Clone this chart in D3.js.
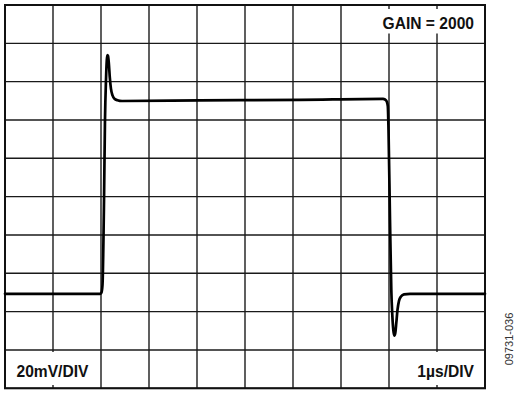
<!DOCTYPE html>
<html>
<head>
<meta charset="utf-8">
<script src="https://cdn.jsdelivr.net/npm/d3@7"></script>
<style>
  html, body { margin: 0; padding: 0; background: #fff; }
  svg { display: block; }
</style>
</head>
<body>
<svg id="scope" width="515" height="398"></svg>
<script>
// Pulse response trace: time in microseconds, output in millivolts
const timeUs = [
  0, 1.979, 2.010, 2.031, 2.063, 2.083, 2.104, 2.121, 2.133, 2.146, 2.163,
  2.183, 2.208, 2.240, 2.281, 2.344, 2.438, 4.063, 6.146, 7.875, 7.917,
  7.954, 7.975, 7.990, 8.021, 8.048, 8.069, 8.090, 8.110, 8.131, 8.152,
  8.177, 8.208, 8.250, 8.313, 8.438, 10
];
const outputMv = [
  -50.7, -50.7, -50.0, -46.1, -1.7, 40.0, 60.9, 71.3, 73.9, 73.4, 69.7,
  62.4, 56.2, 52.8, 51.1, 50.3, 49.9, 50.2, 50.5, 51.0, 50.7,
  49.6, 47.3, 34.8, -12.2, -48.7, -61.8, -69.6, -72.5, -71.1, -65.9,
  -59.1, -54.4, -52.1, -51.0, -50.7, -50.7
];

// Screen divisions: 1 µs/div horizontally, 20 mV/div vertically
const timeDomain = [0, 10];
const voltDomain = [-100, 100];
const timeDivs = d3.range(0, 11, 1);
const voltDivs = d3.range(-100, 101, 20);

const gainLabel = "GAIN = 2000";
const voltLabel = "20mV/DIV";
const timeLabel = "1µs/DIV";
const figureId = "09731-036";

const svg = d3.select("#scope");
const plotLeft = 5, plotRight = 485, plotTop = 5, plotBottom = 388.3;

const x = d3.scaleLinear().domain(timeDomain).range([plotLeft, plotRight]);
const y = d3.scaleLinear().domain(voltDomain).range([plotBottom, plotTop]);

// graticule
const grid = svg.append("g").attr("stroke", "#1a1a1a").attr("stroke-width", 1.4);
grid.selectAll("line.v").data(timeDivs).join("line")
  .attr("class", "v")
  .attr("x1", d => x(d)).attr("x2", d => x(d))
  .attr("y1", plotTop).attr("y2", plotBottom);
grid.selectAll("line.h").data(voltDivs).join("line")
  .attr("class", "h")
  .attr("x1", plotLeft).attr("x2", plotRight)
  .attr("y1", d => y(d)).attr("y2", d => y(d));

// label backgrounds mask the graticule behind the text
const boxes = [
  { x0: 346, x1: 483, y0: 9, y1: 33.5 },
  { x0: 8, x1: 97, y0: 352, y1: 385 },
  { x0: 394, x1: 483, y0: 352, y1: 385 }
];
svg.append("g").selectAll("rect").data(boxes).join("rect")
  .attr("x", d => d.x0).attr("y", d => d.y0)
  .attr("width", d => d.x1 - d.x0).attr("height", d => d.y1 - d.y0)
  .attr("fill", "#fff");

// outer frame
svg.append("rect")
  .attr("x", plotLeft).attr("y", plotTop)
  .attr("width", plotRight - plotLeft).attr("height", plotBottom - plotTop)
  .attr("fill", "none").attr("stroke", "#111").attr("stroke-width", 2);

// trace
const points = timeUs.map((t, i) => [t, outputMv[i]]);
const line = d3.line()
  .x(d => x(d[0]))
  .y(d => y(d[1]))
  .curve(d3.curveMonotoneX);
svg.append("path")
  .datum(points)
  .attr("d", line)
  .attr("fill", "none")
  .attr("stroke", "#000")
  .attr("stroke-width", 2.7)
  .attr("stroke-linejoin", "round")
  .attr("stroke-linecap", "round");

// annotations
const labelFont = "'Liberation Sans', Arial, Helvetica, sans-serif";
const labels = svg.append("g")
  .attr("font-family", labelFont)
  .attr("font-weight", "bold")
  .attr("font-size", 15.6)
  .attr("fill", "#111");
labels.append("text").attr("x", 474).attr("y", 29.3).attr("text-anchor", "end").text(gainLabel);
labels.append("text").attr("x", 16.5).attr("y", 377).attr("text-anchor", "start").text(voltLabel);
labels.append("text").attr("x", 474).attr("y", 377).attr("text-anchor", "end").text(timeLabel);

svg.append("text")
  .attr("transform", "translate(513,339) rotate(-90)")
  .attr("text-anchor", "middle")
  .attr("font-family", labelFont)
  .attr("font-size", 11)
  .attr("fill", "#333")
  .text(figureId);
</script>
</body>
</html>
